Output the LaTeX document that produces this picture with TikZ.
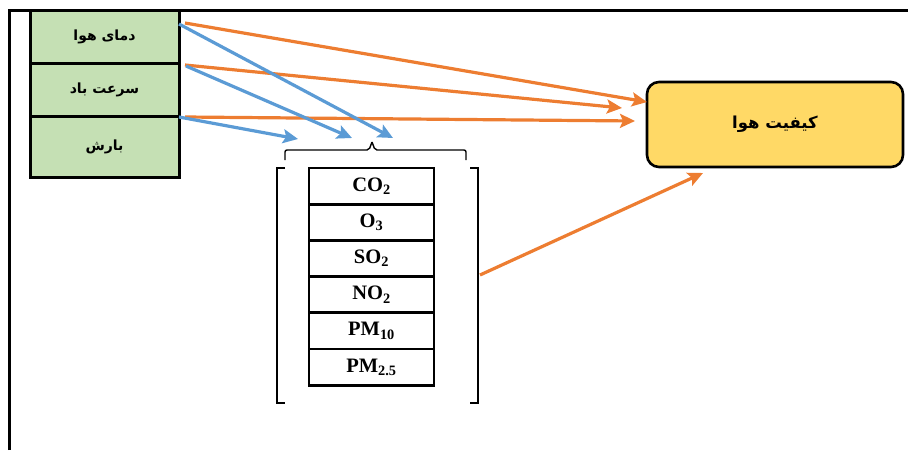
\documentclass[tikz,border=0pt]{standalone}
\usepackage{fontspec}
\setmainfont{Liberation Serif}
\newfontfamily\arabicfont[Script=Arabic]{DejaVu Sans}
\TeXXeTstate=1
\usetikzlibrary{arrows.meta}
\definecolor{gfill}{HTML}{C5E0B4}
\definecolor{bluel}{HTML}{5B9BD5}
\definecolor{orangel}{HTML}{ED7D31}
\definecolor{yfill}{HTML}{FFD966}
\tikzset{
  gbox/.style={draw=black, line width=3pt, fill=gfill, minimum width=149pt, inner sep=0pt, font=\arabicfont\bfseries\fontsize{14}{16}\selectfont},
  tbox/.style={draw=black, line width=2.8pt, fill=white, minimum width=125pt, minimum height=36.2pt, inner sep=0pt, font=\bfseries\fontsize{20.5}{22}\selectfont},
  ybox/.style={draw=black, line width=2.6pt, fill=yfill, rounded corners=12pt, minimum width=256pt, minimum height=85pt, font=\arabicfont\bfseries\fontsize{16.5}{20}\selectfont},
  bluearr/.style={draw=bluel, line width=3.2pt, -{Stealth[length=15pt,width=14pt,inset=3pt]}},
  orarr/.style={draw=orangel, line width=3.2pt, -{Stealth[length=15pt,width=14pt,inset=3pt]}},
  brk/.style={draw=black, line width=1.4pt},
}
\begin{document}
\begin{tikzpicture}[x=1pt,y=-1pt]
\useasboundingbox (0,0) rectangle (908,450);
\draw[line width=3pt] (9,450) -- (9,10) -- (908,10);

\node[gbox, minimum height=53pt] (t1) at (104.5,36.5) {\beginR دمای هوا\endR};
\node[gbox, minimum height=53pt] (t2) at (104.5,89.5) {\beginR سرعت باد\endR};
\node[gbox, minimum height=61pt] (t3) at (104.5,146.5) {\beginR بارش\endR};

\node[ybox] (q) at (775,124.5) {\beginR کیفیت هوا\endR};

\node[tbox] (r1) at (371.5,186.1) {CO\textsubscript{2}};
\node[tbox] (r2) at (371.5,222.3) {O\textsubscript{3}};
\node[tbox] (r3) at (371.5,258.5) {SO\textsubscript{2}};
\node[tbox] (r4) at (371.5,294.7) {NO\textsubscript{2}};
\node[tbox] (r5) at (371.5,330.9) {PM\textsubscript{10}};
\node[tbox] (r6) at (371.5,367.1) {PM\textsubscript{2.5}};

% braces and brackets
\draw[brk, rounded corners=2pt] (285,160) -- (285,150) -- (369,150) -- (372,142);
\draw[brk, rounded corners=2pt] (372,142) -- (375,150) -- (466,150) -- (466,160);
\draw[brk] (285,168) -- (277,168) -- (277,403) -- (285,403);
\draw[brk] (470,168) -- (478,168) -- (478,403) -- (470,403);

% coordinates
\coordinate (s1o) at (185,23);
\coordinate (s2o) at (185,65);
\coordinate (s3o) at (185,117);
\coordinate (s1b) at (179,24);
\coordinate (s2b) at (186,66);
\coordinate (s3b) at (179,117);
\coordinate (g) at (480,275);
\coordinate (e1) at (647,102);
\coordinate (e2) at (622,108);
\coordinate (e3) at (635,121);
\coordinate (e4) at (703,173);
\coordinate (b1) at (393,138);
\coordinate (b2) at (352,138);
\coordinate (b3) at (298,139);

\draw[orarr] (s1o) -- (e1);
\draw[orarr] (s2o) -- (e2);
\draw[orarr] (s3o) -- (e3);
\draw[orarr] (g) -- (e4);

\draw[bluearr] (s1b) -- (b1);
\draw[bluearr] (s2b) -- (b2);
\draw[bluearr] (s3b) -- (b3);
\end{tikzpicture}
\end{document}
